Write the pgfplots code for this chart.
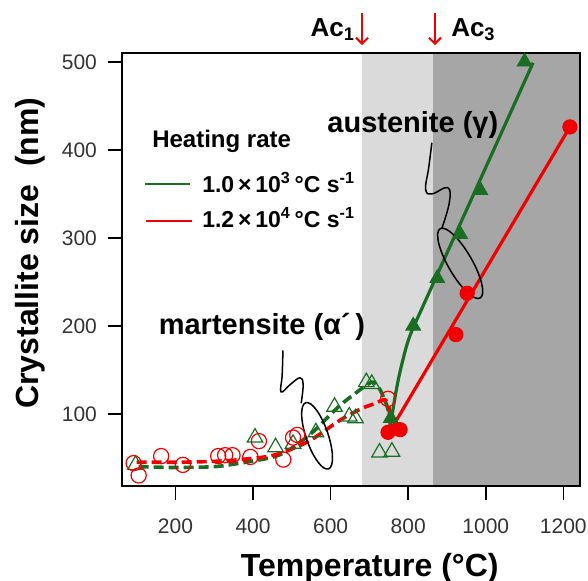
\documentclass[border=0pt]{standalone}
\usepackage{fontspec}
\setmainfont{Liberation Sans}
\usepackage{pgfplots}
\pgfplotsset{compat=1.18}
\usetikzlibrary{arrows.meta,shapes.geometric}
\definecolor{ggreen}{RGB}{25,110,35}
\definecolor{rred}{RGB}{240,0,0}
\definecolor{lgray}{RGB}{218,218,218}
\definecolor{dgray}{RGB}{166,166,166}
\begin{document}
\begin{tikzpicture}
\begin{axis}[
  scale only axis, width=229pt, height=216.5pt,
  xmin=62, xmax=1243, ymin=18, ymax=510,
  clip=false, axis on top,
  axis line style={line width=1pt},
  xtick={200,400,600,800,1000,1200}, ytick={100,200,300,400,500},
  tick align=outside, xtick pos=bottom, ytick pos=left,
  major tick length=7pt,
  tick style={line width=0.8pt, black},
  /pgf/number format/assume math mode=true,
  /pgf/number format/1000 sep={},
  ticklabel style={font=\fontsize{10.5}{12}\selectfont, text=black!80},
  xticklabel style={yshift=-6pt},
  yticklabel style={xshift=-2pt},
  xlabel={Temperature (°C)},
  ylabel={Crystallite size\ \ (nm)},
  every axis x label/.style={at={(axis description cs:0.541,0)}, anchor=base, yshift=-45.5pt, font=\bfseries\fontsize{16}{19}\selectfont},
  every axis y label/.style={at={([xshift=-41.5pt]axis description cs:0,0.538)}, rotate=90, anchor=base, font=\bfseries\fontsize{16}{19}\selectfont},
]
% shaded regions
\addplot[draw=none, fill=lgray, forget plot] coordinates {(681,18) (865,18) (865,510) (681,510)} -- cycle;
\addplot[draw=none, fill=dgray, forget plot] coordinates {(865,18) (1243,18) (1243,510) (865,510)} -- cycle;

% dashed fits (martensite)
\addplot[ggreen, line width=1.8pt, dash pattern=on 5pt off 2.5pt, smooth] coordinates {
 (105,40) (200,39) (300,40) (367,44) (453,51) (500,61) (556,80) (590,95) (625,110) (660,122) (690,132) (710,136) (728,127) (746,108) (755,90)};
\addplot[rred, line width=1.8pt, dash pattern=on 5pt off 2.5pt, smooth] coordinates {
 (100,45) (200,45) (300,46) (367,48) (453,53) (540,68) (625,93) (680,106) (710,111) (740,116) (750,108) (754,85)};

% solid fits (austenite)
\addplot[ggreen, line width=1.6pt, smooth, tension=0.5] coordinates {
 (753,82) (759,100) (766,119) (775,140) (785,159) (797,179) (810,195) (830,214.5) (860,243.7) (900,282.7) (1000,380) (1122,499)};
\addplot[rred, line width=1.6pt] coordinates {(750,78) (1217,426)};

% hollow markers
\addplot[only marks, mark=triangle, mark size=4.5pt, ggreen, mark options={line width=0.6pt}] coordinates {
 (97,42) (405,73) (458,62) (503,66) (562,79) (610,108) (648,97) (664,95) (692,136) (706,134) (726,56) (758,57)};
\addplot[only marks, mark=o, mark size=3.8pt, rred, mark options={line width=0.6pt}] coordinates {
 (92,44) (105,30) (163,52) (219,42) (310,52) (328,53) (347,53) (393,51) (415,69) (478,48) (503,73) (514,76) (748,117)};

% filled markers
\addplot[only marks, mark=triangle*, mark size=4.3pt, ggreen] coordinates {
 (755,95) (813,200) (875,254) (934,304) (986,354) (1100,500)};
\addplot[only marks, mark=*, mark size=3.6pt, rred] coordinates {
 (748,79) (779,82) (923,190) (952,237) (1217,426)};

% annotation squiggles
\addplot[black, line width=0.75pt, smooth, tension=0.7, forget plot] coordinates {
 (861,408) (853,380) (845,355) (862,350) (902,357) (906,340) (887,311)};
\addplot[black, line width=0.75pt, smooth, tension=0.7, forget plot] coordinates {
 (477,172) (475,144) (472,125) (495,133) (521,141) (529,133) (524,112)};
\node[draw=black, line width=0.75pt, ellipse, inner sep=0pt, minimum width=40pt, minimum height=12pt, rotate=-60] at (axis cs:934,271) {};
\node[draw=black, line width=0.75pt, ellipse, inner sep=0pt, minimum width=35pt, minimum height=11pt, rotate=-71] at (axis cs:565,75) {};

% texts
\node[anchor=base, font=\bfseries\fontsize{14.5}{17}\selectfont] at (axis cs:812,420) {austenite (γ)};
\node[anchor=base, font=\bfseries\fontsize{14.5}{17}\selectfont] at (axis cs:423,190) {martensite (α´\,)};
\node[anchor=base west, inner sep=0pt, font=\bfseries\fontsize{12}{14}\selectfont] at (axis cs:139,403) {Heating rate};
\draw[ggreen, line width=0.9pt] (axis cs:121,361) -- (axis cs:237,361);
\draw[rred, line width=0.9pt] (axis cs:124,319) -- (axis cs:242,319);
\node[anchor=base west, inner sep=0pt, font=\bfseries\fontsize{11.5}{14}\selectfont] at (axis cs:268,352) {1.0\,×\,10\textsuperscript{3}\,°C s\textsuperscript{-1}};
\node[anchor=base west, inner sep=0pt, font=\bfseries\fontsize{11.5}{14}\selectfont] at (axis cs:268,312) {1.2\,×\,10\textsuperscript{4}\,°C s\textsuperscript{-1}};

% Ac markers
\node[anchor=base east, inner sep=0pt, font=\bfseries\fontsize{13}{15}\selectfont] at (axis cs:664,529) {Ac\textsubscript{1}};
\node[anchor=base west, inner sep=0pt, font=\bfseries\fontsize{13}{15}\selectfont] at (axis cs:910,529) {Ac\textsubscript{3}};
\draw[rred, line width=1pt, -{Straight Barb[length=3pt,width=6pt]}] (axis cs:681,555) -- (axis cs:681,519);
\draw[rred, line width=1pt, -{Straight Barb[length=3pt,width=6pt]}] (axis cs:869,555) -- (axis cs:869,519);
\end{axis}
\pgfresetboundingbox
\path[use as bounding box] (-61pt,-47.5pt) rectangle (233pt,243pt);
\end{tikzpicture}
\end{document}
